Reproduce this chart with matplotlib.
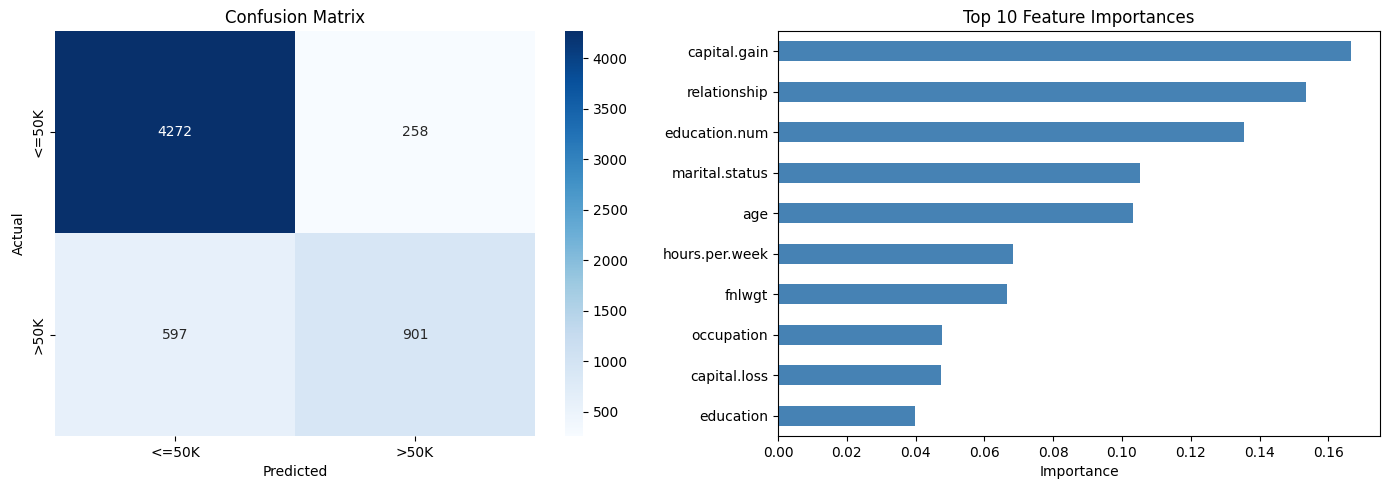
import numpy as np
import pandas as pd
import seaborn as sns
import matplotlib
matplotlib.use('Agg')
import matplotlib.pyplot as plt

# confusion matrix values
labels = ['<=50K', '>50K']
cm = np.array([[4272, 258],
               [597, 901]])

# top 10 feature importances
features = ['capital.gain', 'relationship', 'education.num', 'marital.status', 'age',
            'hours.per.week', 'fnlwgt', 'occupation', 'capital.loss', 'education']
importances = [0.1667, 0.1536, 0.1356, 0.1053, 0.1033,
               0.0684, 0.0666, 0.0477, 0.0474, 0.0398]

W, H = 1389, 490
fig, axes = plt.subplots(1, 2, figsize=(W / 100, H / 100), dpi=100)

sns.heatmap(cm, annot=True, fmt='d', cmap='Blues',
            xticklabels=labels, yticklabels=labels, ax=axes[0])
axes[0].set_title('Confusion Matrix')
axes[0].set_xlabel('Predicted')
axes[0].set_ylabel('Actual')
cbar_ax = axes[0].collections[0].colorbar.ax

feat_imp = pd.Series(importances, index=features).sort_values()
feat_imp.plot(kind='barh', color='steelblue', ax=axes[1])
axes[1].set_title('Top 10 Feature Importances')
axes[1].set_xlabel('Importance')

# place axes to match the original layout (pixel boxes)
bot, hgt = (H - 436) / H, 405 / H
axes[0].set_position([55 / W, bot, 480 / W, hgt])
cbar_ax.set_box_aspect(None)
cbar_ax.set_position([565 / W, bot, 18 / W, hgt])
axes[1].set_position([778 / W, bot, 602 / W, hgt])

plt.savefig('out.png')
